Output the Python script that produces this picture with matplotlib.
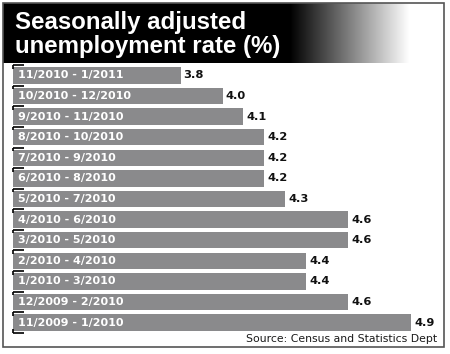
import numpy as np
import matplotlib
matplotlib.use("Agg")
import matplotlib.pyplot as plt
from matplotlib.patches import Rectangle

# ---- data ----
periods = ["11/2010 - 1/2011", "10/2010 - 12/2010", "9/2010 - 11/2010",
           "8/2010 - 10/2010", "7/2010 - 9/2010", "6/2010 - 8/2010",
           "5/2010 - 7/2010", "4/2010 - 6/2010", "3/2010 - 5/2010",
           "2/2010 - 4/2010", "1/2010 - 3/2010", "12/2009 - 2/2010",
           "11/2009 - 1/2010"]
rates = [3.8, 4.0, 4.1, 4.2, 4.2, 4.2, 4.3, 4.6, 4.6, 4.4, 4.4, 4.6, 4.9]
title_lines = ["Seasonally adjusted", "unemployment rate (%)"]
source = "Source: Census and Statistics Dept"

W, H = 450, 354
fig = plt.figure(figsize=(W / 100, H / 100), dpi=100)
fig.patch.set_facecolor("white")

# ---- title banner with gradient ----
bax = fig.add_axes([3 / W, 1 - 63 / H, 441 / W, 60 / H])
xs = np.linspace(3, 444, 441)
grad = np.clip((xs - 277) / (410 - 277), 0, 1)
img = np.tile(grad, (10, 1))
bax.imshow(img, cmap="gray", vmin=0.1, vmax=1, aspect="auto",
           extent=[0, 1, 0, 1], interpolation="bilinear")
bax.set_axis_off()

fig.text(15 / W, 1 - 29.5 / H, title_lines[0], color="white",
         fontsize=17.3, fontweight="bold", family="Liberation Sans",
         ha="left", va="baseline")
fig.text(15 / W, 1 - 53.5 / H, title_lines[1], color="white",
         fontsize=17.3, fontweight="bold", family="Liberation Sans",
         ha="left", va="baseline")

# ---- bar chart ----
top_px, bot_px = 65.2, 332.8
ax = fig.add_axes([13 / W, (H - bot_px) / H, 419 / W, (bot_px - top_px) / H])
n = len(periods)
y = np.arange(n)
ax.barh(y, rates, left=0, height=0.8, color="#8a8a8c")
ax.set_xlim(3.0, 5.0)
ax.set_ylim(n - 0.5, -0.5)
for s in ax.spines.values():
    s.set_visible(False)
ax.set_xticks([])
bounds = np.arange(n + 1) - 0.5
ax.set_yticks(bounds)
ax.tick_params(axis="y", direction="in", length=8, width=1.2,
               color="black", labelleft=False)
ax.vlines(np.full(n, 3.0), bounds[:-1], bounds[:-1] + 0.17, color="black",
          lw=1.2, clip_on=False)
ax.vlines(3.0, bounds[-1] - 0.17, bounds[-1], color="black", lw=1.2,
          clip_on=False)

for i, (lab, v) in enumerate(zip(periods, rates)):
    ax.annotate(lab, (3.0, i), xytext=(3.6, 0), textcoords="offset points",
                ha="left", va="center", color="white", fontsize=8,
                fontweight="bold", family="DejaVu Sans")
    ax.annotate(f"{v:.1f}", (v, i), xytext=(2.2, 0), textcoords="offset points",
                ha="left", va="center", color="#111111", fontsize=8.2,
                fontweight="bold", family="DejaVu Sans")

# ---- source ----
fig.text(437 / W, 1 - 342 / H, source, ha="right", va="baseline",
         fontsize=7.8, color="#1a1a1a", family="DejaVu Sans")

# ---- frame ----
fig.patches.append(Rectangle((3 / W, 1 - 347 / H), 441 / W, 344 / H,
                             transform=fig.transFigure, fill=False,
                             edgecolor="#555555", lw=1.2))

fig.savefig("out.png", dpi=100)
